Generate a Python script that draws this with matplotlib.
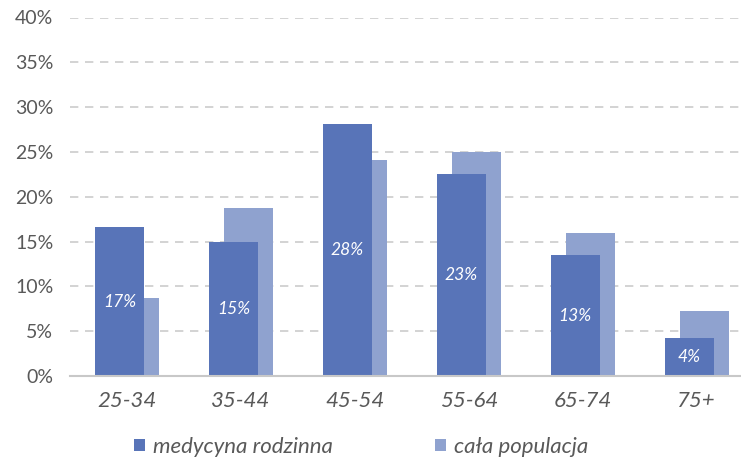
import numpy as np
import matplotlib
matplotlib.use("Agg")
import matplotlib.pyplot as plt

# dane
grupy = ["25-34", "35-44", "45-54", "55-64", "65-74", "75+"]
medycyna_rodzinna = [16.6, 14.9, 28.1, 22.5, 13.5, 4.2]
cala_populacja = [8.7, 18.7, 24.1, 25.0, 16.0, 7.3]
etykiety = ["17%", "15%", "28%", "23%", "13%", "4%"]

kolor_ciemny = "#5874b8"
kolor_jasny = "#8fa2cf"

plt.rcParams["font.family"] = ["Lato", "DejaVu Sans"]

fig = plt.figure(figsize=(7.41, 4.59), dpi=100)
ax = fig.add_axes([70 / 741, 83 / 459, 1 - 70 / 741, 358.5 / 459])

x = np.arange(len(grupy))
szer = 0.43
przes = 0.066

ax.bar(x + przes, cala_populacja, width=szer, color=kolor_jasny, zorder=2, label="cała populacja")
ax.bar(x - przes, medycyna_rodzinna, width=szer, color=kolor_ciemny, zorder=3, label="medycyna rodzinna")

for xi, v, t in zip(x, medycyna_rodzinna, etykiety):
    ax.text(xi - przes, v / 2, t, ha="center", va="center", color="white",
            fontsize=12.5, style="italic", zorder=4)

ax.set_ylim(0, 40)
ax.set_xlim(-0.5, 5.39)
ax.set_yticks(np.arange(0, 41, 5))
ax.set_yticklabels([f"{v}%" for v in range(0, 41, 5)])
ax.set_xticks(x)
ax.set_xticklabels(grupy, style="italic")
ax.tick_params(axis="y", length=0, pad=12, labelsize=14, labelcolor="#595959")
ax.tick_params(axis="x", length=0, pad=11, labelsize=16, labelcolor="#595959")

for s in ["top", "right", "left"]:
    ax.spines[s].set_visible(False)
ax.spines["bottom"].set_color("#c8c8c8")
ax.spines["bottom"].set_linewidth(1.5)
ax.spines["bottom"].set_zorder(5)

ax.yaxis.grid(True, color="#cccccc", linestyle=(0, (5, 4)), linewidth=1.2, zorder=0)
ax.set_axisbelow(True)

uchwyty, nazwy = ax.get_legend_handles_labels()
leg = fig.legend(uchwyty[::-1], nazwy[::-1], loc="center", bbox_to_anchor=(361 / 741, 1 - 447 / 459),
                 ncol=2, frameon=False, handlelength=0.5, handleheight=0.5, handletextpad=0.35,
                 columnspacing=4.6, prop={"size": 16, "style": "italic"})
for t in leg.get_texts():
    t.set_color("#595959")

fig.savefig("out.png", dpi=100)
